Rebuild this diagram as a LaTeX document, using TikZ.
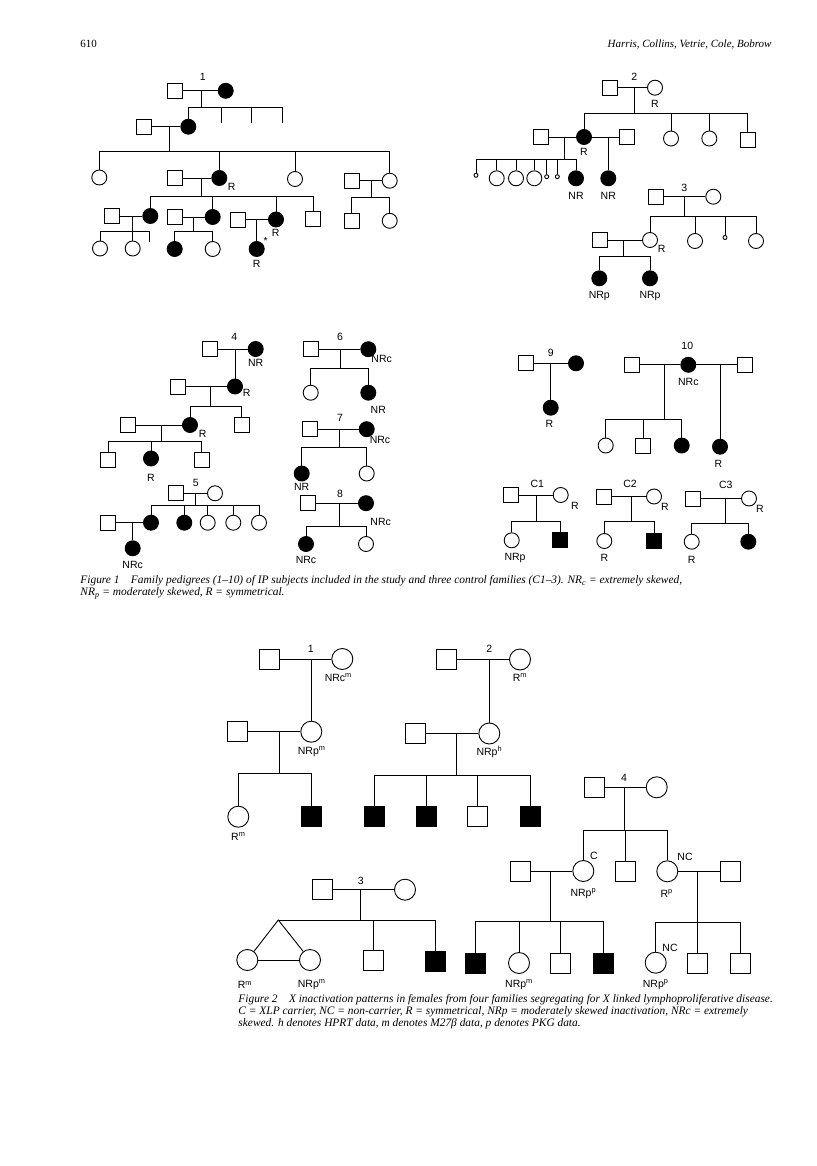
\documentclass[tikz,border=0pt]{standalone}
\usepackage{fontspec}
\setmainfont{Liberation Serif}
\setsansfont{Liberation Sans}
\usetikzlibrary{positioning}

\begin{document}
\begin{tikzpicture}[x=1pt, y=-1pt, line width=0.9pt,
    male/.style={draw, minimum size=15pt, inner sep=0pt},
    female/.style={draw, circle, minimum size=15pt, inner sep=0pt},
    affm/.style={male, fill=black},
    afff/.style={female, fill=black},
    tiny/.style={draw, circle, minimum size=4pt, inner sep=0pt},
    bigmale/.style={male, minimum size=20pt},
    bigfemale/.style={female, minimum size=21pt},
    bigaffm/.style={bigmale, fill=black},
    lab/.style={font=\sffamily\fontsize{10.5}{10.5}\selectfont, inner sep=0.5pt},
    famno/.style={lab},
    caption/.style={font=\itshape\fontsize{11.4}{12.2}\selectfont, align=left,
      anchor=north west, inner sep=0pt}]

  \useasboundingbox (0,0) rectangle (816,1166);

  % --- page head ---
  \node[font=\fontsize{11}{12}\selectfont, anchor=base west, inner sep=0pt] (pageno) at (80,48) {610};
  \node[font=\itshape\fontsize{11}{12}\selectfont, anchor=base east, inner sep=0pt] (authors) at (772,48)
        {Harris, Collins, Vetrie, Cole, Bobrow};

  % ===== Figure 1 =====

  % --- family 1 ---
  \node[famno] (f1no) at (202.7,77) {1};
  \node[male] (f1a) at (175.2,90.8) {};
  \node[afff] (f1b) at (225.7,90.8) {};
  \draw (f1a) -- (f1b);
  \coordinate (f1m) at (201.7,90.8);
  \coordinate (f1s) at (201.7,107.7);
  \draw (f1m) -- (f1s);
  \node[male] (f1c) at (143.7,126.7) {};
  \node[afff] (f1d) at (188.3,126.7) {};
  \draw (f1d) |- (f1s);
  \coordinate (f1t1) at (221.7,123.3);
  \coordinate (f1t2) at (251,123.3);
  \coordinate (f1t3) at (282,123.3);
  \draw (f1t1) |- (f1s);
  \draw (f1t2) |- (f1s);
  \draw (f1t3) |- (f1s);
  \draw (f1c) -- (f1d);
  \coordinate (f1m2) at (169,126.7);
  \coordinate (f1s2) at (169,151.5);
  \draw (f1m2) -- (f1s2);

  \node[female] (f1e) at (99.3,177.5) {};
  \node[male] (f1f) at (174.8,178) {};
  \node[afff] (f1g) at (219.3,178) {};
  \node[lab] (f1gR) at (231.7,187.3) {R};
  \node[female] (f1h) at (295,179) {};
  \node[male] (f1i) at (351.5,180.7) {};
  \node[female] (f1j) at (389.7,180.7) {};
  \foreach \k in {f1e,f1g,f1h,f1j} \draw (\k) |- (f1s2);
  \draw (f1f) -- (f1g);
  \draw (f1i) -- (f1j);

  \coordinate (f1m4) at (371,180.7);
  \coordinate (f1s4) at (371,197.7);
  \draw (f1m4) -- (f1s4);
  \node[male] (f1k) at (351.5,220.8) {};
  \node[female] (f1l) at (389.7,220.8) {};
  \draw (f1k) |- (f1s4);
  \draw (f1l) |- (f1s4);

  \coordinate (f1m3) at (201.7,178);
  \coordinate (f1s3) at (201.7,196);
  \draw (f1m3) -- (f1s3);
  \node[male] (f1o) at (112.2,216) {};
  \node[afff] (f1p) at (150.3,216) {};
  \node[male] (f1v) at (174.5,217) {};
  \node[afff] (f1q) at (212.7,217) {};
  \node[male] (f1w) at (237.8,219.5) {};
  \node[afff] (f1r) at (276,219.5) {};
  \node[lab] (f1rR) at (275.7,233.3) {R};
  \node[male] (f1u) at (313,219) {};
  \foreach \k in {f1p,f1q,f1r,f1u} \draw (\k) |- (f1s3);
  \draw (f1o) -- (f1p);
  \draw (f1v) -- (f1q);
  \draw (f1w) -- (f1r);

  \coordinate (f1m5) at (132.7,216);
  \coordinate (f1s5) at (132.7,231);
  \draw (f1m5) -- (f1s5);
  \node[female] (f1x) at (100,248.5) {};
  \node[female] (f1y) at (132.7,248.5) {};
  \coordinate (f1t4) at (149,241.7);
  \draw (f1x) |- (f1s5);
  \draw (f1y) |- (f1s5);
  \draw (f1t4) |- (f1s5);

  \coordinate (f1m6) at (193.3,217);
  \coordinate (f1s6) at (193.3,231);
  \draw (f1m6) -- (f1s6);
  \node[afff] (f1z) at (174.7,249) {};
  \node[female] (f1aa) at (212.7,249) {};
  \draw (f1z) |- (f1s6);
  \draw (f1aa) |- (f1s6);

  \coordinate (f1m7) at (256.7,219.5);
  \node[afff] (f1bb) at (256.7,249) {};
  \draw (f1m7) -- (f1bb);
  \node[lab] (f1star) at (265.7,241) {*};
  \node[lab] (f1bbR) at (256.7,264) {R};

  % --- family 2 ---
  \node[famno] (f2no) at (634.3,77.3) {2};
  \node[male] (f2a) at (609.8,87.7) {};
  \node[female] (f2b) at (655,87.7) {};
  \node[lab] (f2bR) at (655,104.3) {R};
  \draw (f2a) -- (f2b);
  \coordinate (f2m) at (634.3,87.7);
  \coordinate (f2s) at (634.3,113.3);
  \draw (f2m) -- (f2s);
  \node[afff] (f2c) at (584,137) {};
  \node[lab] (f2cR) at (584,151.7) {R};
  \node[female] (f2d) at (671,138.5) {};
  \node[female] (f2e) at (709.3,138.5) {};
  \node[male] (f2f) at (747.5,139.5) {};
  \foreach \k in {f2c,f2d,f2e,f2f} \draw (\k) |- (f2s);
  \node[male] (f2g) at (541.3,137) {};
  \node[male] (f2h) at (626.7,137) {};
  \draw (f2g) -- (f2c) -- (f2h);

  \coordinate (f2m2) at (564.3,137);
  \coordinate (f2s2) at (564.3,159.3);
  \draw (f2m2) -- (f2s2);
  \node[tiny] (f2i) at (476,175.3) {};
  \node[female] (f2j) at (496.7,178.3) {};
  \node[female] (f2k) at (516,178.3) {};
  \node[female] (f2l) at (534.3,178.3) {};
  \node[tiny] (f2n) at (546.7,176.7) {};
  \node[tiny] (f2o) at (557.3,176.7) {};
  \node[afff] (f2p) at (576,178.3) {};
  \node[lab] (f2pR) at (576,196) {NR};
  \foreach \k in {f2i,f2j,f2k,f2l,f2n,f2o,f2p} \draw (\k) |- (f2s2);
  \coordinate (f2m3) at (608.3,137);
  \node[afff] (f2q) at (608.3,178.3) {};
  \node[lab] (f2qR) at (608.3,196) {NR};
  \draw (f2m3) -- (f2q);

  % --- family 3 ---
  \node[famno] (f3no) at (684.3,187.7) {3};
  \node[male] (f3a) at (656.2,196.7) {};
  \node[female] (f3b) at (713.3,196.7) {};
  \draw (f3a) -- (f3b);
  \coordinate (f3m) at (684.3,196.7);
  \coordinate (f3s) at (684.3,216.7);
  \draw (f3m) -- (f3s);
  \node[female] (f3c) at (650,240) {};
  \node[lab] (f3cR) at (661.7,248.5) {R};
  \node[female] (f3d) at (695,241) {};
  \node[tiny] (f3e) at (725,237.5) {};
  \node[female] (f3f) at (756,241) {};
  \foreach \k in {f3c,f3d,f3e,f3f} \draw (\k) |- (f3s);
  \node[male] (f3g) at (599.5,240) {};
  \draw (f3g) -- (f3c);
  \coordinate (f3m2) at (623.3,240);
  \coordinate (f3s2) at (623.3,256.7);
  \draw (f3m2) -- (f3s2);
  \node[afff] (f3h) at (599.3,278.3) {};
  \node[afff] (f3i) at (650,278.3) {};
  \node[lab] (f3hR) at (599.3,296) {NRp};
  \node[lab] (f3iR) at (650,296) {NRp};
  \draw (f3h) |- (f3s2);
  \draw (f3i) |- (f3s2);

  % --- family 4 ---
  \node[famno] (f4no) at (234.3,337.3) {4};
  \node[male] (f4a) at (210.2,349) {};
  \node[afff] (f4b) at (255.7,349) {};
  \node[lab] (f4bR) at (255.7,363.3) {NR};
  \draw (f4a) -- (f4b);
  \coordinate (f4m) at (235,349);
  \node[afff] (f4c) at (235,386.5) {};
  \node[lab] (f4cR) at (246.7,393.3) {R};
  \draw (f4m) -- (f4c);
  \node[male] (f4d) at (178.3,386.5) {};
  \draw (f4d) -- (f4c);
  \coordinate (f4m2) at (210,386.5);
  \coordinate (f4s2) at (210,406);
  \draw (f4m2) -- (f4s2);
  \node[afff] (f4e) at (190,425) {};
  \node[lab] (f4eR) at (202.7,434.3) {R};
  \node[male] (f4f) at (241.5,425) {};
  \draw (f4e) |- (f4s2);
  \draw (f4f) |- (f4s2);
  \node[male] (f4g) at (127.5,425) {};
  \draw (f4g) -- (f4e);
  \coordinate (f4m3) at (161.7,425);
  \coordinate (f4s3) at (161.7,441.7);
  \draw (f4m3) -- (f4s3);
  \node[male] (f4h) at (108.2,459.5) {};
  \node[afff] (f4i) at (151,458.5) {};
  \node[lab] (f4iR) at (151,478.3) {R};
  \node[male] (f4j) at (201.8,460) {};
  \foreach \k in {f4h,f4i,f4j} \draw (\k) |- (f4s3);

  % --- family 5 ---
  \node[famno] (f5no) at (195.7,483.3) {5};
  \node[male] (f5a) at (175.8,493.3) {};
  \node[female] (f5b) at (215,493.3) {};
  \draw (f5a) -- (f5b);
  \coordinate (f5m) at (195.7,493.3);
  \coordinate (f5s) at (195.7,505);
  \draw (f5m) -- (f5s);
  \node[afff] (f5c) at (151,522.7) {};
  \node[afff] (f5d) at (184.3,522.7) {};
  \node[female] (f5e) at (207.7,522.7) {};
  \node[female] (f5f) at (233.3,522.7) {};
  \node[female] (f5g) at (259,522.7) {};
  \foreach \k in {f5c,f5d,f5e,f5f,f5g} \draw (\k) |- (f5s);
  \node[male] (f5h) at (108.2,522.7) {};
  \draw (f5h) -- (f5c);
  \coordinate (f5m2) at (132.7,522.7);
  \node[afff] (f5i) at (132.7,548.3) {};
  \node[lab] (f5iR) at (132.7,565) {NRc};
  \draw (f5m2) -- (f5i);

  % --- family 6 ---
  \node[famno] (f6no) at (340,337.3) {6};
  \node[male] (f6a) at (310.8,349.2) {};
  \node[afff] (f6b) at (368.3,349.2) {};
  \node[lab] (f6bR) at (381.7,359.3) {NRc};
  \draw (f6a) -- (f6b);
  \coordinate (f6m) at (340,349.2);
  \coordinate (f6s) at (340,368.3);
  \draw (f6m) -- (f6s);
  \node[female] (f6c) at (310.7,392.7) {};
  \node[afff] (f6d) at (368.3,392.7) {};
  \node[lab] (f6dR) at (378.3,410) {NR};
  \draw (f6c) |- (f6s);
  \draw (f6d) |- (f6s);

  % --- family 7 ---
  \node[famno] (f7no) at (340,418.3) {7};
  \node[male] (f7a) at (310,429.2) {};
  \node[afff] (f7b) at (366.7,429.2) {};
  \node[lab] (f7bR) at (380,440) {NRc};
  \draw (f7a) -- (f7b);
  \coordinate (f7m) at (339.3,429.2);
  \coordinate (f7s) at (339.3,447.3);
  \draw (f7m) -- (f7s);
  \node[afff] (f7c) at (301.7,473.5) {};
  \node[lab] (f7cR) at (301.7,487.3) {NR};
  \node[female] (f7d) at (366.7,473.5) {};
  \draw (f7c) |- (f7s);
  \draw (f7d) |- (f7s);

  % --- family 8 ---
  \node[famno] (f8no) at (340,494) {8};
  \node[male] (f8a) at (307.5,503.2) {};
  \node[afff] (f8b) at (366,503.2) {};
  \node[lab] (f8bR) at (380.7,521.7) {NRc};
  \draw (f8a) -- (f8b);
  \coordinate (f8m) at (339.3,503.2);
  \coordinate (f8s) at (339.3,526.7);
  \draw (f8m) -- (f8s);
  \node[afff] (f8c) at (306,544) {};
  \node[lab] (f8cR) at (306,560) {NRc};
  \node[female] (f8d) at (366,544) {};
  \draw (f8c) |- (f8s);
  \draw (f8d) |- (f8s);

  % --- family 9 ---
  \node[famno] (f9no) at (550.7,353.3) {9};
  \node[male] (f9a) at (525.8,363.3) {};
  \node[afff] (f9b) at (576,363.3) {};
  \draw (f9a) -- (f9b);
  \coordinate (f9m) at (550.7,363.3);
  \node[afff] (f9c) at (550.7,407.7) {};
  \node[lab] (f9cR) at (549.3,424) {R};
  \draw (f9m) -- (f9c);

  % --- family 10 ---
  \node[famno] (f10no) at (687.3,346) {10};
  \node[male] (f10a) at (631.5,364.8) {};
  \node[afff] (f10b) at (688.3,364.8) {};
  \node[lab] (f10bR) at (688.3,382.3) {NRc};
  \node[male] (f10c) at (744.8,364.8) {};
  \draw (f10a) -- (f10b) -- (f10c);
  \coordinate (f10m) at (664,364.8);
  \coordinate (f10s) at (664,419.3);
  \draw (f10m) -- (f10s);
  \node[female] (f10d) at (605.7,445.5) {};
  \node[male] (f10e) at (643.3,445.5) {};
  \node[afff] (f10f) at (681.7,445.5) {};
  \foreach \k in {f10d,f10e,f10f} \draw (\k) |- (f10s);
  \coordinate (f10m2) at (720,364.8);
  \node[afff] (f10g) at (720,446.7) {};
  \node[lab] (f10gR) at (718.3,464) {R};
  \draw (f10m2) -- (f10g);

  % --- control families ---
  \node[famno] (c1no) at (537.3,484) {C1};
  \node[male] (c1a) at (510.8,495) {};
  \node[female] (c1b) at (560.7,495) {};
  \node[lab] (c1bR) at (575,506) {R};
  \draw (c1a) -- (c1b);
  \coordinate (c1m) at (536,495);
  \coordinate (c1s) at (536,521);
  \draw (c1m) -- (c1s);
  \node[female] (c1c) at (511.7,540.3) {};
  \node[lab] (c1cR) at (515,557.7) {NRp};
  \node[affm] (c1d) at (560.2,540.3) {};
  \draw (c1c) |- (c1s);
  \draw (c1d) |- (c1s);

  \node[famno] (c2no) at (630,484) {C2};
  \node[male] (c2a) at (604.2,496.5) {};
  \node[female] (c2b) at (654,496.5) {};
  \node[lab] (c2bR) at (665,507.3) {R};
  \draw (c2a) -- (c2b);
  \coordinate (c2m) at (631,496.5);
  \coordinate (c2s) at (631,521.7);
  \draw (c2m) -- (c2s);
  \node[female] (c2c) at (604.3,541) {};
  \node[lab] (c2cR) at (604.3,558.3) {R};
  \node[affm] (c2d) at (654.2,541) {};
  \draw (c2c) |- (c2s);
  \draw (c2d) |- (c2s);

  \node[famno] (c3no) at (725.7,485) {C3};
  \node[male] (c3a) at (692.5,498.5) {};
  \node[female] (c3b) at (749,498.5) {};
  \node[lab] (c3bR) at (760,509.3) {R};
  \draw (c3a) -- (c3b);
  \coordinate (c3m) at (725.7,498.5);
  \coordinate (c3s) at (725.7,523.3);
  \draw (c3m) -- (c3s);
  \node[female] (c3c) at (691.7,541.7) {};
  \node[lab] (c3cR) at (691.7,560) {R};
  \node[afff] (c3d) at (748.3,541.7) {};
  \draw (c3c) |- (c3s);
  \draw (c3d) |- (c3s);

  \node[caption] (cap1) at (80,575)
        {Figure 1\quad Family pedigrees (1--10) of IP subjects included in the study and three control families (C1--3). NR\textsubscript{c} = extremely skewed,\\
         NR\textsubscript{p} = moderately skewed, R = symmetrical.};

  % ===== Figure 2 =====

  % --- family 1 ---
  \node[famno] (g1no) at (310.7,649) {1};
  \node[bigmale] (g1a) at (269.2,659) {};
  \node[bigfemale] (g1b) at (342.3,659) {};
  \node[lab] (g1bR) at (338.3,677.7) {NRc\textsuperscript{m}};
  \draw (g1a) -- (g1b);
  \coordinate (g1m) at (311.3,659);
  \node[bigfemale] (g1c) at (311.3,731.7) {};
  \node[lab] (g1cR) at (311.7,751.7) {NRp\textsuperscript{m}};
  \draw (g1m) -- (g1c);
  \node[bigmale] (g1d) at (237.5,731.7) {};
  \draw (g1d) -- (g1c);
  \coordinate (g1m2) at (279.3,731.7);
  \coordinate (g1s2) at (279.3,773.3);
  \draw (g1m2) -- (g1s2);
  \node[bigfemale] (g1e) at (238.3,816.7) {};
  \node[lab] (g1eR) at (238.3,836.7) {R\textsuperscript{m}};
  \node[bigaffm] (g1f) at (311.7,816.5) {};
  \draw (g1e) |- (g1s2);
  \draw (g1f) |- (g1s2);

  % --- family 2 ---
  \node[famno] (g2no) at (489.3,649) {2};
  \node[bigmale] (g2a) at (446.7,659.5) {};
  \node[bigfemale] (g2b) at (520,659.5) {};
  \node[lab] (g2bR) at (520,677.7) {R\textsuperscript{m}};
  \draw (g2a) -- (g2b);
  \coordinate (g2m) at (489.3,659.5);
  \node[bigfemale] (g2c) at (489.3,733.5) {};
  \node[lab] (g2cR) at (489.3,751.7) {NRp\textsuperscript{h}};
  \draw (g2m) -- (g2c);
  \node[bigmale] (g2d) at (415.7,733.5) {};
  \draw (g2d) -- (g2c);
  \coordinate (g2m2) at (456.7,733.5);
  \coordinate (g2s2) at (456.7,775);
  \draw (g2m2) -- (g2s2);
  \node[bigaffm] (g2e) at (374,816.7) {};
  \node[bigaffm] (g2f) at (426.7,816.7) {};
  \node[bigmale] (g2g) at (477.7,816.7) {};
  \node[bigaffm] (g2h) at (530,816.7) {};
  \foreach \k in {g2e,g2f,g2g,g2h} \draw (\k) |- (g2s2);

  % --- family 4 ---
  \node[famno] (g4no) at (624,777.7) {4};
  \node[bigmale] (g4a) at (594.2,787.3) {};
  \node[bigfemale] (g4b) at (656.7,787.3) {};
  \draw (g4a) -- (g4b);
  \coordinate (g4m) at (624,787.3);
  \coordinate (g4s) at (624,830);
  \draw (g4m) -- (g4s);
  \node[bigfemale] (g4c) at (583.3,871) {};
  \node[lab] (g4cC) at (594,856) {C};
  \node[lab] (g4cR) at (583.3,893.3) {NRp\textsuperscript{p}};
  \node[bigmale] (g4d) at (625,871) {};
  \node[bigfemale] (g4e) at (667.3,871.3) {};
  \node[lab] (g4eC) at (685,856.7) {NC};
  \node[lab] (g4eR) at (666.7,894) {R\textsuperscript{p}};
  \foreach \k in {g4c,g4d,g4e} \draw (\k) |- (g4s);
  \node[bigmale] (g4f) at (520.7,871) {};
  \draw (g4f) -- (g4c);
  \coordinate (g4m2) at (550.7,871);
  \coordinate (g4s2) at (550.7,921.7);
  \draw (g4m2) -- (g4s2);
  \node[bigaffm] (g4g) at (475.7,963) {};
  \node[bigfemale] (g4h) at (519,963) {};
  \node[lab] (g4hR) at (519,985) {NRp\textsuperscript{m}};
  \node[bigmale] (g4i) at (560.7,963.3) {};
  \node[bigaffm] (g4j) at (603.3,963.3) {};
  \foreach \k in {g4g,g4h,g4i,g4j} \draw (\k) |- (g4s2);
  \node[bigmale] (g4k) at (730.7,871.3) {};
  \draw (g4e) -- (g4k);
  \coordinate (g4m3) at (697.3,871.3);
  \coordinate (g4s3) at (697.3,922.7);
  \draw (g4m3) -- (g4s3);
  \node[bigfemale] (g4l) at (655.7,962.7) {};
  \node[lab] (g4lC) at (670,948.3) {NC};
  \node[lab] (g4lR) at (655.7,985) {NRp\textsuperscript{p}};
  \node[bigmale] (g4n) at (697.3,963.3) {};
  \node[bigmale] (g4o) at (740,963.3) {};
  \foreach \k in {g4l,g4n,g4o} \draw (\k) |- (g4s3);

  % --- family 3 (twins) ---
  \node[famno] (g3no) at (360.7,880.7) {3};
  \node[bigmale] (g3a) at (322,889.7) {};
  \node[bigfemale] (g3b) at (405,889.7) {};
  \draw (g3a) -- (g3b);
  \coordinate (g3m) at (360,889.7);
  \coordinate (g3s) at (360,920);
  \draw (g3m) -- (g3s);
  \coordinate (g3tw) at (278.3,920);
  \draw (g3tw) -- (g3s);
  \node[bigfemale] (g3c) at (247.3,960) {};
  \node[bigfemale] (g3d) at (310,960) {};
  \node[lab] (g3cR) at (245,985) {R\textsuperscript{m}};
  \node[lab] (g3dR) at (311.7,985) {NRp\textsuperscript{m}};
  \draw (g3c) -- (g3tw) -- (g3d);
  \draw (g3c) -- (g3d);
  \node[bigmale] (g3e) at (373.3,960) {};
  \node[bigaffm] (g3f) at (435.3,961) {};
  \draw (g3e) |- (g3s);
  \draw (g3f) |- (g3s);

  \node[caption] (cap2) at (238,994)
        {Figure 2\quad X inactivation patterns in females from four families segregating for X linked lymphoproliferative disease.\\
         C = XLP carrier, NC = non-carrier, R = symmetrical, NRp = moderately skewed inactivation, NRc = extremely\\
         skewed. h denotes HPRT data, m denotes M27β data, p denotes PKG data.};
\end{tikzpicture}
\end{document}
